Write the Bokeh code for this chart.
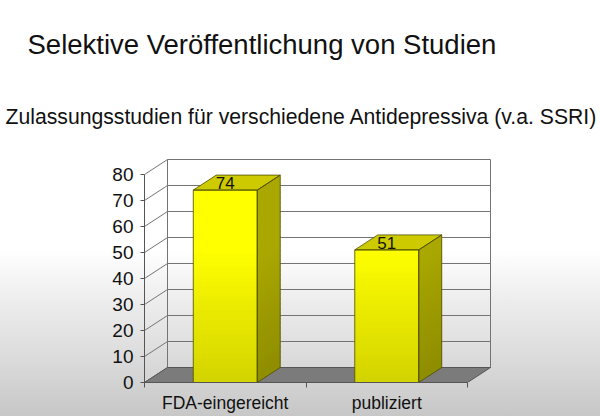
import numpy as np
from bokeh.plotting import figure
from bokeh.models import Range1d, FixedTicker, Title
from bokeh.core.properties import value
from bokeh.embed import file_html
from bokeh.resources import INLINE

# ---- data ----
title_text = "Selektive Veröffentlichung von Studien"
subtitle_text = "Zulassungsstudien für verschiedene Antidepressiva (v.a. SSRI)"
categories = ["FDA-eingereicht", "publiziert"]
values = [74, 51]
y_ticks = [0, 10, 20, 30, 40, 50, 60, 70, 80]

# ---- layout / style ----
W, H = 600, 416
LEFT, BOTTOM, TOPB = 144, 34, 150
PX_X = 161.5          # pixels per category
PX_Y = 2.6            # pixels per value unit
DX = 23 / PX_X        # 3D depth offset (x)
DY = 15 / PX_Y        # 3D depth offset (y)
HALF = 0.198          # half bar width (category units)
NCAT = len(categories)
YMAX = y_ticks[-1]
FONT = "Liberation Sans"
FRAME_BOTTOM = H - BOTTOM
FRAME_H = H - BOTTOM - TOPB

shade_px = [0, 250, 300, 350, 416]
shade_f = [1.0, 1.0, 0.93, 0.87, 0.78]


def shade(yv):
    py = FRAME_BOTTOM - np.asarray(yv) * PX_Y
    return np.interp(py, shade_px, shade_f)


def col(base, f):
    return "#%02x%02x%02x" % tuple(int(round(max(0, min(255, c * f)))) for c in base)


css_stops = ", ".join("%s %dpx" % (col((255, 255, 255), f), px) for px, f in zip(shade_px, shade_f))

p = figure(width=W, height=H, output_backend="svg", toolbar_location=None,
           x_range=Range1d(0, (W - LEFT) / PX_X), y_range=Range1d(0, FRAME_H / PX_Y),
           min_border_left=LEFT, min_border_right=0, min_border_top=TOPB,
           min_border_bottom=BOTTOM)
p.styles = {"background": "linear-gradient(to bottom, %s)" % css_stops}
p.border_fill_alpha = 0
p.background_fill_alpha = 0
p.outline_line_color = None
p.xgrid.visible = False
p.ygrid.visible = False

centers = np.arange(NCAT) + 0.5
grid_y = np.array(y_ticks, dtype=float)
LINE = "#747474"

# back wall gridlines
p.segment(x0=DX, x1=NCAT + DX, y0=grid_y + DY, y1=grid_y + DY, line_color=LINE, line_width=1)
# left side wall diagonals
p.segment(x0=0, x1=DX, y0=grid_y, y1=grid_y + DY, line_color=LINE, line_width=1)
# back wall vertical edges
p.segment(x0=[DX, NCAT + DX], x1=[DX, NCAT + DX], y0=[DY, DY], y1=[YMAX + DY, YMAX + DY],
          line_color=LINE, line_width=1)

# floor
p.patch([0, NCAT, NCAT + DX, DX], [0, 0, DY, DY], fill_color="#7b7b7b",
        line_color="#555555", line_width=1)

FRONT = (255, 255, 0)
SIDE = (170, 168, 0)
TOP = (205, 203, 0)
EDGE = "#4d4d00"
NB = 40
for c, v in zip(centers, values):
    edges = np.linspace(0, v, NB + 1)
    mids = (edges[:-1] + edges[1:]) / 2
    fs = shade(mids)
    top_e = np.minimum(edges[1:] + v / NB * 0.6, v)
    p.quad(left=c - HALF, right=c + HALF, bottom=edges[:-1], top=top_e,
           fill_color=[col(FRONT, f) for f in fs], line_color=None)
    xr = c + HALF
    xs = [[xr, xr + DX, xr + DX, xr] for _ in range(NB)]
    ys = [[b, b + DY, t + DY, t] for b, t in zip(edges[:-1], top_e)]
    fs2 = shade(mids + DY / 2)
    p.patches(xs, ys, fill_color=[col(SIDE, f) for f in fs2], line_color=None)
    # top face
    p.patch([c - HALF, c + HALF, c + HALF + DX, c - HALF + DX], [v, v, v + DY, v + DY],
            fill_color=col(TOP, float(shade(v + DY / 2))), line_color=EDGE, line_width=0.8)
    # outlines
    p.patch([c - HALF, c + HALF, c + HALF, c - HALF], [0, 0, v, v],
            fill_color=None, line_color=EDGE, line_width=0.8)
    p.patch([xr, xr + DX, xr + DX, xr], [0, DY, v + DY, v],
            fill_color=None, line_color=EDGE, line_width=0.8)

# value labels
p.text(x=centers, y=np.array(values) + 2.8, text=[str(v) for v in values],
       text_align="center", text_baseline="alphabetic", text_font=value(FONT),
       text_font_size="17px", text_color="#111111")

# axes
p.yaxis.ticker = FixedTicker(ticks=y_ticks)
p.yaxis.bounds = (0, YMAX)
p.yaxis.major_tick_out = 4
p.yaxis.major_tick_in = 0
p.yaxis.minor_tick_line_color = None
p.yaxis.major_label_standoff = 7
p.yaxis.major_label_text_font = FONT
p.yaxis.major_label_text_font_size = "19px"
p.yaxis.major_label_text_color = "#111111"
p.yaxis.axis_line_color = "#555555"
p.yaxis.major_tick_line_color = "#555555"

p.xaxis.ticker = FixedTicker(ticks=list(centers), minor_ticks=list(range(NCAT + 1)))
p.xaxis.major_label_overrides = {float(cc): cat for cc, cat in zip(centers, categories)}
p.xaxis.bounds = (0, NCAT)
p.xaxis.major_tick_out = 0
p.xaxis.major_tick_in = 0
p.xaxis.major_tick_line_color = None
p.xaxis.minor_tick_out = 5
p.xaxis.minor_tick_in = 0
p.xaxis.minor_tick_line_color = "#555555"
p.xaxis.axis_line_color = "#555555"
p.xaxis.major_label_standoff = 5
p.xaxis.major_label_text_font = FONT
p.xaxis.major_label_text_font_size = "17.5px"
p.xaxis.major_label_text_color = "#111111"

# titles (subtitle added first: it sits nearest the frame); left-aligned with
# negative offsets relative to the frame's left edge
p.add_layout(Title(text=subtitle_text, align="left", offset=5 - LEFT, standoff=46,
                   vertical_align="bottom",
                   text_font=FONT, text_font_size="21.2px", text_font_style="normal",
                   text_color="#111111"), "above")
p.add_layout(Title(text=title_text, align="left", offset=27 - LEFT, standoff=36,
                   vertical_align="top",
                   text_font=FONT, text_font_size="27.5px", text_font_style="normal",
                   text_color="#111111"), "above")

open("out.html", "w").write(file_html(p, INLINE))
